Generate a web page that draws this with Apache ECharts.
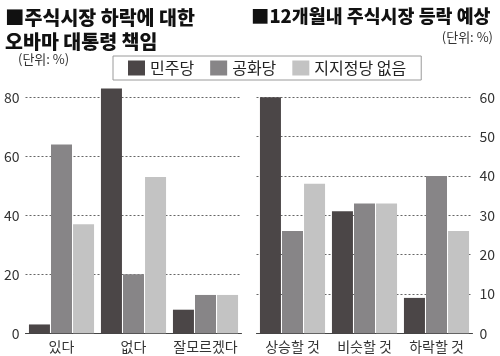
<!DOCTYPE html>
<html><head><meta charset="utf-8">
<script src="https://cdn.jsdelivr.net/npm/echarts@6/dist/echarts.min.js"></script>
<style>html,body{margin:0;padding:0;background:#fff}#c{width:500px;height:356px}</style>
</head><body><div id="c"></div>
<script>
var seriesNames = ['민주당', '공화당', '지지정당 없음'];
var colors = ['#4b4647', '#878587', '#c3c3c3'];
var cats1 = ['있다', '없다', '잘모르겠다'];
var dem1 = [3, 83, 8];
var rep1 = [64, 20, 13];
var none1 = [37, 53, 13];
var cats2 = ['상승할 것', '비슷할 것', '하락할 것'];
var dem2 = [60, 31, 9];
var rep2 = [26, 33, 40];
var none2 = [38, 33, 26];

var FF = '"Noto Sans CJK KR", "Noto Sans", sans-serif';
var chart = echarts.init(document.getElementById('c'), null, {renderer: 'canvas'});

function bar(name, data, idx, color) {
  return {
    name: name, type: 'bar', data: data, xAxisIndex: idx, yAxisIndex: idx,
    barWidth: 21, barGap: '5%', clip: false,
    itemStyle: {color: color}, silent: true
  };
}
var axisLabelStyle = {color: '#333', fontFamily: FF, fontSize: 14};
chart.setOption({
  animation: false,
  textStyle: {fontFamily: FF},
  title: [
    {text: '■주식시장 하락에 대한\n오바마 대통령 책임', left: 0, top: 1,
     textStyle: {fontSize: 19.5, fontWeight: 900, color: '#111', lineHeight: 24, fontFamily: FF}},
    {text: '(단위: %)', left: 13, top: 48, textStyle: {fontSize: 13, fontWeight: 'normal', color: '#333', fontFamily: FF}},
    {text: '■12개월내 주식시장 등락 예상', left: 246, top: 2,
     textStyle: {fontSize: 18.4, fontWeight: 900, color: '#111', fontFamily: FF}},
    {text: '(단위: %)', right: 2, top: 26, textStyle: {fontSize: 13, fontWeight: 'normal', color: '#333', fontFamily: FF}}
  ],
  legend: {
    data: seriesNames, left: 113, top: 56, orient: 'horizontal',
    borderColor: '#9a9a9a', borderWidth: 1, padding: [4, 15, 4, 15],
    itemWidth: 17, itemHeight: 15, itemGap: 16, icon: 'rect',
    textStyle: {fontSize: 16, color: '#222', fontFamily: FF}
  },
  grid: [
    {left: 25.5, width: 216, top: 97.3, height: 236},
    {left: 256.5, width: 216, top: 97.3, height: 236}
  ],
  xAxis: [
    {type: 'category', gridIndex: 0, data: cats1, axisTick: {show: false},
     axisLine: {lineStyle: {color: '#444'}}, axisLabel: Object.assign({margin: 6, interval: 0}, axisLabelStyle)},
    {type: 'category', gridIndex: 1, data: cats2, axisTick: {show: false},
     axisLine: {lineStyle: {color: '#444'}}, axisLabel: Object.assign({margin: 6, interval: 0}, axisLabelStyle)}
  ],
  yAxis: [
    {type: 'value', gridIndex: 0, min: 0, max: 80, interval: 20,
     axisLine: {show: false}, axisTick: {show: false},
     axisLabel: Object.assign({margin: 6}, axisLabelStyle),
     splitLine: {lineStyle: {color: '#666', type: [2, 2], width: 1}}},
    {type: 'value', gridIndex: 1, min: 0, max: 60, interval: 10, position: 'right',
     axisLine: {show: false}, axisTick: {show: false},
     axisLabel: Object.assign({margin: 7}, axisLabelStyle),
     splitLine: {lineStyle: {color: '#666', type: [2, 2], width: 1}}}
  ],
  series: [
    bar(seriesNames[0], dem1, 0, colors[0]),
    bar(seriesNames[1], rep1, 0, colors[1]),
    bar(seriesNames[2], none1, 0, colors[2]),
    bar(seriesNames[0], dem2, 1, colors[0]),
    bar(seriesNames[1], rep2, 1, colors[1]),
    bar(seriesNames[2], none2, 1, colors[2])
  ]
});
</script></body></html>
